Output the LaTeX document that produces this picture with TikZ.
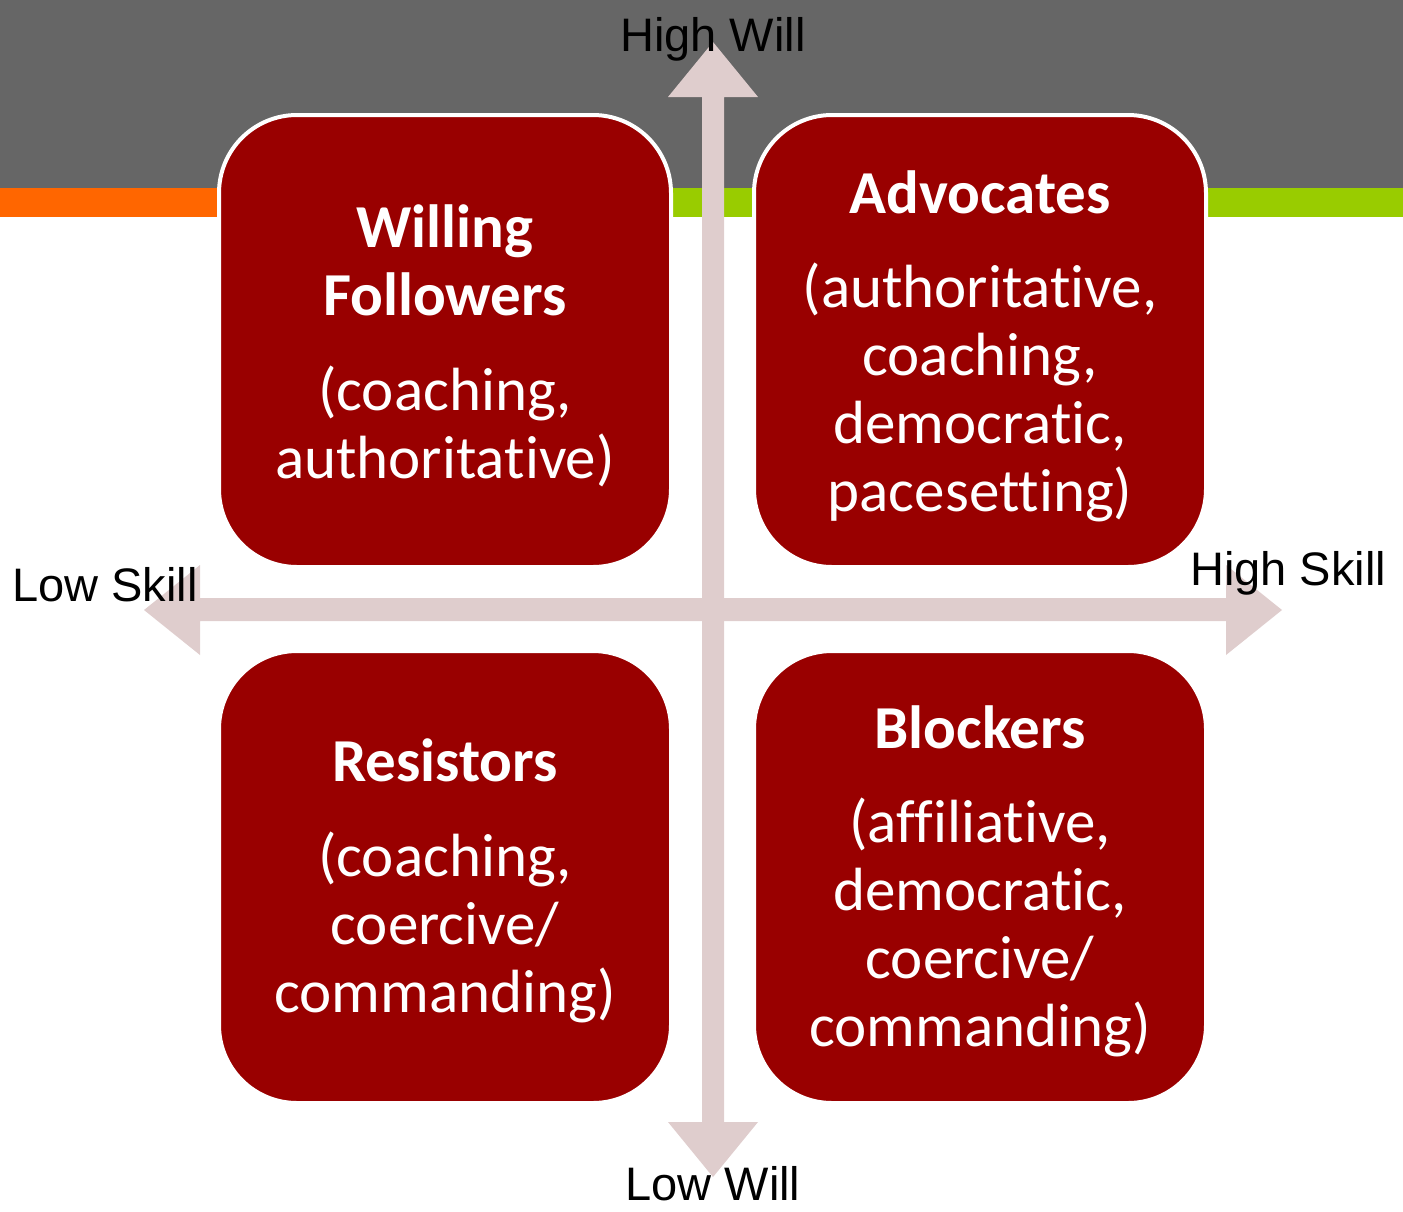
\documentclass[tikz,border=0pt]{standalone}
\usepackage{fontspec}
\setmainfont{Carlito}[Ligatures=NoCommon]
\newfontfamily\axisfont{Liberation Sans}
\definecolor{bandgray}{RGB}{102,102,102}
\definecolor{stripeorange}{RGB}{255,102,0}
\definecolor{stripegreen}{RGB}{153,204,0}
\definecolor{quadred}{RGB}{153,0,0}
\definecolor{axispink}{RGB}{223,205,205}
\begin{document}
\begin{tikzpicture}[x=1pt,y=-1pt,
  quad/.style={fill=quadred, draw=white, line width=4pt, rounded corners=78pt,
    minimum width=452pt, minimum height=452pt, inner sep=0pt},
  quadtext/.style={inner sep=0pt, text=white, align=center,
    font=\fontsize{61}{68}\selectfont},
  axislabel/.style={anchor=base, inner sep=0pt, text=black,
    font=\axisfont\fontsize{47}{56}\selectfont},
  axisfill/.style={fill=axispink, draw=none}]
\useasboundingbox (0,0) rectangle (1403,1211);

% header band and coloured stripe
\fill[bandgray] (0,0) rectangle (1403,188);
\fill[stripeorange] (0,188) rectangle (445,217);
\fill[stripegreen] (445,188) rectangle (1403,217);

% axis end points
\coordinate (top) at (713,42);
\coordinate (bottom) at (713,1177);
\coordinate (left) at (144,610);
\coordinate (right) at (1282,610);

% vertical axis (will), double-headed block arrow
\fill[axisfill] (top) -- ++(45,55) -- ++(-34,0) -- ++(0,1025) -- ++(34,0)
  -- (bottom) -- ++(-45,-55) -- ++(34,0) -- ++(0,-1025) -- ++(-34,0) -- cycle;
% horizontal axis (skill), double-headed block arrow
\fill[axisfill] (left) -- ++(56,-45) -- ++(0,33) -- ++(1026,0) -- ++(0,-33)
  -- (right) -- ++(-56,45) -- ++(0,-34) -- ++(-1026,0) -- ++(0,34) -- cycle;

% quadrants
\node[quad] (willing) at (445,341) {};
\node[quad] (advocates) at (980,341) {};
\node[quad] (resistors) at (445,877) {};
\node[quad] (blockers) at (980,877) {};

\node[quadtext] (willingtext) at ([yshift=-5pt]willing.center)
  {\textbf{Willing}\\\textbf{Followers}\\[27pt](coaching,\\authoritative)};
\node[quadtext] (advocatestext) at ([yshift=-5pt]advocates.center)
  {\textbf{Advocates}\\[26pt](authoritative,\\coaching,\\democratic,\\pacesetting)};
\node[quadtext] (resistorstext) at ([yshift=-4pt]resistors.center)
  {\textbf{Resistors}\\[27pt](coaching,\\coercive/\\commanding)};
\node[quadtext] (blockerstext) at ([yshift=-4pt]blockers.center)
  {\textbf{Blockers}\\[26pt](affiliative,\\democratic,\\coercive/\\commanding)};

% axis labels
\node[axislabel] (highwill) at (713,51) {High Will};
\node[axislabel] (lowwill) at (713,1200) {Low Will};
\node[axislabel] (lowskill) at (105,601) {Low Skill};
\node[axislabel] (highskill) at (1288,585) {High Skill};
\end{tikzpicture}
\end{document}
